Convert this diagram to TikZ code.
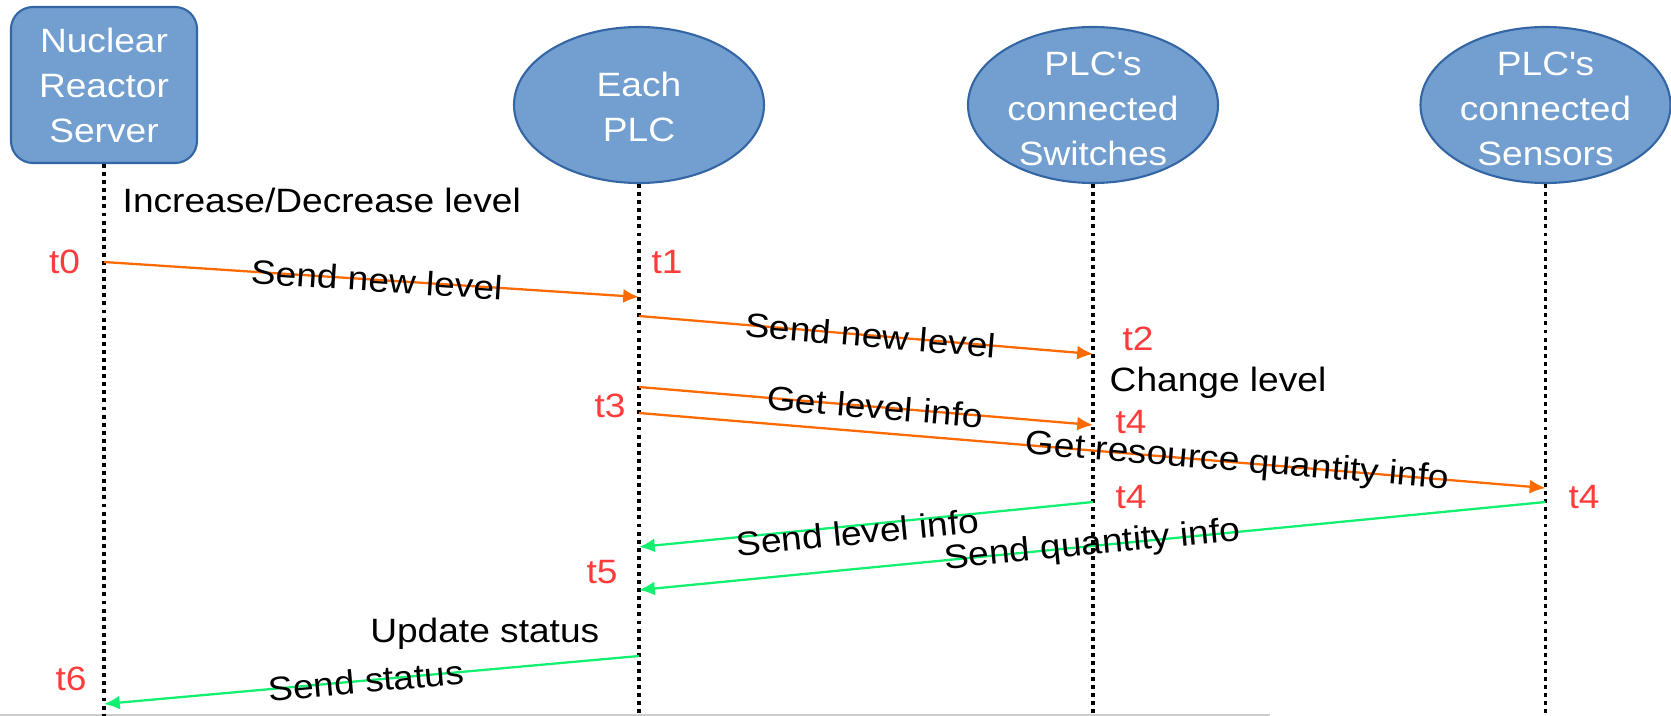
\documentclass[tikz,border=0pt]{standalone}
\usepackage{fontspec}
\setmainfont{Liberation Sans}[FakeStretch=1.1]
\usetikzlibrary{shapes.geometric,arrows.meta}
\definecolor{partfill}{HTML}{729FCF}
\definecolor{partdraw}{HTML}{3465A4}
\definecolor{msgorange}{HTML}{FF6A00}
\definecolor{msggreen}{HTML}{12F070}
\definecolor{timered}{HTML}{FF3B3B}

\begin{document}
\begin{tikzpicture}[
  font=\fontsize{9.6pt}{12.8pt}\selectfont,
  part/.style={fill=partfill,draw=partdraw,line width=0.6pt,minimum width=1.86cm,minimum height=1.56cm,inner sep=0pt},
  parttxt/.style={text=white,align=center,inner sep=0pt},
  life/.style={line width=1pt,dash pattern=on 1.1pt off 1.2pt},
  req/.style={draw=msgorange,line width=0.65pt,-{Latex[length=4.5pt,width=4pt]}},
  resp/.style={draw=msggreen,line width=0.65pt,-{Latex[length=4.5pt,width=4pt]}},
  lbl/.style={sloped,inner sep=0pt},
  tmark/.style={text=timered,inner sep=0pt,anchor=base},
  note/.style={inner sep=0pt}
]
\useasboundingbox (0,0) rectangle (16.71,-7.16);

%bottom edge
\draw[gray!40,line width=0.8pt] (0,-7.15) -- (12.7,-7.15);

%participants
\node[part,rounded corners=0.22cm,text=white,align=center] (server) at (1.04,-0.85) {Nuclear\\Reactor\\Server};
\node[part,ellipse,minimum width=2.5cm] (plc) at (6.39,-1.05) {};
\node[parttxt] (plc-txt) at (6.39,-1.07) {Each\\PLC};
\node[part,ellipse,minimum width=2.5cm] (switches) at (10.93,-1.05) {};
\node[parttxt] (switches-txt) at (10.93,-1.09) {PLC\textquotesingle s\\connected\\Switches};
\node[part,ellipse,minimum width=2.5cm] (sensors) at (15.455,-1.05) {};
\node[parttxt] (sensors-txt) at (15.455,-1.09) {PLC\textquotesingle s\\connected\\Sensors};

%lifelines
\foreach \p in {server,plc,switches,sensors} {
\draw[life] (\p.south) -- (\p.south |- 0,-7.16);
}

%points on the lifelines
\coordinate (srv-a) at (server.south |- 0,-2.62);
\coordinate (plc-a) at (plc.south |- 0,-2.97);
\coordinate (plc-b) at (plc.south |- 0,-3.16);
\coordinate (sw-b) at (switches.south |- 0,-3.54);
\coordinate (plc-c) at (plc.south |- 0,-3.87);
\coordinate (sw-c) at (switches.south |- 0,-4.25);
\coordinate (plc-d) at (plc.south |- 0,-4.13);
\coordinate (sen-d) at (sensors.south |- 0,-4.88);
\coordinate (sw-e) at (switches.south |- 0,-5.02);
\coordinate (plc-e) at (plc.south |- 0,-5.47);
\coordinate (sen-f) at (sensors.south |- 0,-5.02);
\coordinate (plc-f) at (plc.south |- 0,-5.90);
\coordinate (plc-g) at (plc.south |- 0,-6.56);
\coordinate (srv-g) at (server.south |- 0,-7.04);

%messages
\draw[req] (srv-a) -- node[lbl,pos=0.51] (lbl-a) {Send new level} (plc-a);
\draw[req] (plc-b) -- node[lbl,pos=0.51] (lbl-b) {Send new level} (sw-b);
\draw[req] (plc-c) -- node[lbl,pos=0.52] (lbl-c) {Get level info} (sw-c);
\draw[req] (plc-d) -- node[lbl,pos=0.66] (lbl-d) {Get resource quantity info} (sen-d);
\draw[resp] (sw-e) -- node[lbl,pos=0.52,yshift=-2pt] (lbl-e) {Send level info} (plc-e);
\draw[resp] (sen-f) -- node[lbl,pos=0.5] (lbl-f) {Send quantity info} (plc-f);
\draw[resp] (plc-g) -- node[lbl,pos=0.51] (lbl-g) {Send status} (srv-g);

%notes
\node[note,anchor=base west] (n-inc) at (1.22,-2.13) {Increase/Decrease level};
\node[note,anchor=base west] (n-chg) at (11.09,-3.92) {Change level};
\node[note,anchor=base east] (n-upd) at (6.00,-6.42) {Update status};

%time marks
\node[tmark] (t0) at (0.645,-2.73) {t0};
\node[tmark] (t1) at (6.67,-2.73) {t1};
\node[tmark] (t2) at (11.38,-3.50) {t2};
\node[tmark] (t3) at (6.10,-4.17) {t3};
\node[tmark] (t4a) at (11.31,-4.33) {t4};
\node[tmark] (t4b) at (11.31,-5.08) {t4};
\node[tmark] (t4c) at (15.84,-5.08) {t4};
\node[tmark] (t5) at (6.02,-5.83) {t5};
\node[tmark] (t6) at (0.71,-6.90) {t6};
\end{tikzpicture}
\end{document}
